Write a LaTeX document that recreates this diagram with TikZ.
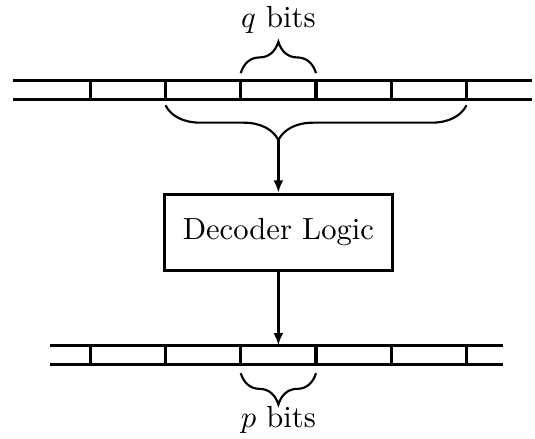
\documentclass[tikz,border=0pt]{standalone}
\usepackage{tikz,amsmath}
\usetikzlibrary{arrows.meta,positioning,decorations.pathreplacing}

\begin{document}
\begin{tikzpicture}[
  reg/.style={line width=1pt},
  brc/.style={decorate,decoration={brace,amplitude=0.36cm},line width=0.7pt},
  logic/.style={rectangle,draw,line width=1pt,minimum width=2.62cm,
                minimum height=0.875cm,font=\normalsize},
  arr/.style={-{Latex[length=4pt,width=3.2pt]},line width=0.75pt}
]
\useasboundingbox (0,0) rectangle (6.15,-5.04);

% Top register (input word)
\draw[reg] (0.15,-0.93) -- (6.12,-0.93);
\draw[reg] (0.15,-1.14) -- (6.12,-1.14);
\draw[reg] (1.0375,-0.93) -- (1.0375,-1.14);
\draw[reg] (1.9025,-0.93) -- (1.9025,-1.14);
\draw[reg] (2.7675,-0.93) -- (2.7675,-1.14);
\draw[reg] (3.6325,-0.93) -- (3.6325,-1.14);
\draw[reg] (4.4975,-0.93) -- (4.4975,-1.14);
\draw[reg] (5.3625,-0.93) -- (5.3625,-1.14);

% q bits brace above, selected field below (tip off centre)
\draw[brc] (2.7675,-0.84) -- (3.6325,-0.84);
\node (qb) at (3.2,-0.23) {$q$ bits};
\draw[brc,decoration={amplitude=0.40cm,aspect=0.625}] (5.3625,-1.21) -- (1.9025,-1.21);
\coordinate (tip) at (3.2,-1.61);

% Decoder box
\node[logic] (dec) at (3.2,-2.67) {Decoder Logic};

% Bottom register (output word)
\draw[reg] (0.575,-3.97) -- (5.785,-3.97);
\draw[reg] (0.575,-4.19) -- (5.785,-4.19);
\draw[reg] (1.0375,-3.97) -- (1.0375,-4.19);
\draw[reg] (1.9025,-3.97) -- (1.9025,-4.19);
\draw[reg] (2.7675,-3.97) -- (2.7675,-4.19);
\draw[reg] (3.6325,-3.97) -- (3.6325,-4.19);
\draw[reg] (4.4975,-3.97) -- (4.4975,-4.19);
\draw[reg] (5.3625,-3.97) -- (5.3625,-4.19);
\coordinate (out) at (3.2,-3.97);

% p bits brace below
\draw[brc] (3.6325,-4.29) -- (2.7675,-4.29);
\node (pb) at (3.2,-4.83) {$p$ bits};

\draw[arr] (tip) -- (dec.north);
\draw[arr] (dec.south) -- (out);

\end{tikzpicture}
\end{document}
